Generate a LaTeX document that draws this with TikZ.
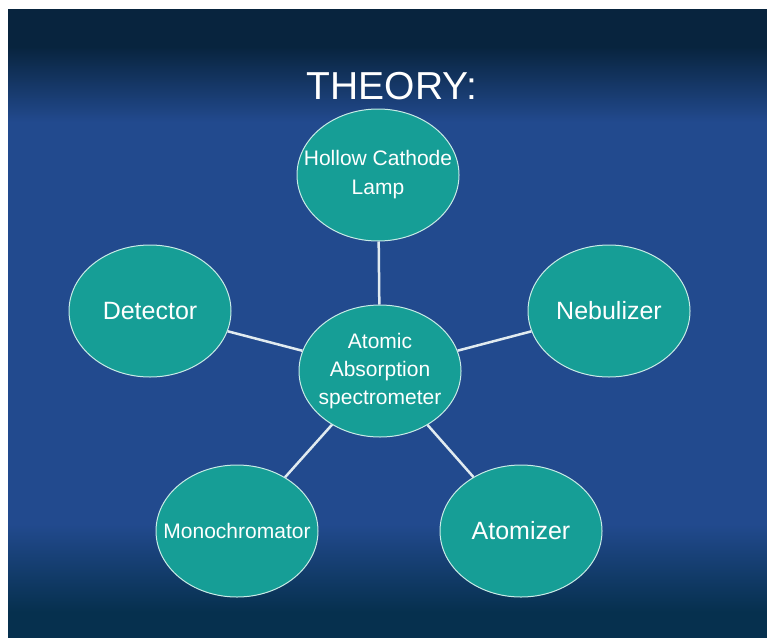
\documentclass[tikz,border=0pt]{standalone}
\usepackage{fontspec}
\setmainfont{Liberation Sans}
\usetikzlibrary{shapes.geometric}

\definecolor{bgtop}{RGB}{8,36,62}
\definecolor{bgmid}{RGB}{34,74,142}
\definecolor{bgbot}{RGB}{6,48,78}
\definecolor{tealfill}{RGB}{22,158,150}
\definecolor{rimcol}{RGB}{200,235,230}
\definecolor{linkcol}{RGB}{225,235,240}

% tikz fits the 25bp..75bp band of the shading to the path
\pgfdeclareverticalshading{slidebg}{100bp}{color(0bp)=(bgbot); color(27bp)=(bgbot); color(34bp)=(bgmid); color(66bp)=(bgmid); color(72bp)=(bgtop); color(100bp)=(bgtop)}

\tikzset{
  part/.style={ellipse, fill=tealfill, draw=rimcol, line width=1pt,
    minimum width=162pt, minimum height=132pt, inner sep=-22pt,
    text=white, align=center},
  link/.style={draw=linkcol, line width=2.5pt}
}

\begin{document}
\begin{tikzpicture}[x=1pt,y=-1pt]
        \useasboundingbox (0,0) rectangle (767,637);
        \fill[white] (0,0) rectangle (767,637);
        \shade[shading=slidebg] (8,9) rectangle (767,637);

        \node[text=white, font=\fontsize{39}{44}\selectfont, anchor=base] at (392, 99)(title){THEORY:};

        \node[part, font=\fontsize{21}{28}\selectfont] at (380, 371)(aas){Atomic\\Absorption\\spectrometer};
        \node[part, font=\fontsize{21}{29}\selectfont] at (378, 175)(lamp){Hollow Cathode\\Lamp};
        \node[part, font=\fontsize{25}{30}\selectfont] at (150, 311)(detector){Detector};
        \node[part, font=\fontsize{25}{30}\selectfont] at (609, 311)(nebulizer){Nebulizer};
        \node[part, font=\fontsize{21}{26}\selectfont] at (237, 531)(mono){Monochromator};
        \node[part, font=\fontsize{25}{30}\selectfont] at (521, 531)(atomizer){Atomizer};

        \path[link]
        (aas)--(lamp)
        (aas)--(detector)
        (aas)--(nebulizer)
        (aas)--(mono)
        (aas)--(atomizer)
        ;
    \end{tikzpicture}
\end{document}
